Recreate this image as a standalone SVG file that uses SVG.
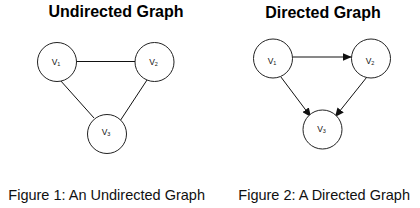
<svg xmlns="http://www.w3.org/2000/svg" width="420" height="208" viewBox="0 0 420 208">
<style>
.title{font-family:"Liberation Sans",Arial,sans-serif;font-size:16px;font-weight:bold;fill:#000;text-anchor:middle}
.cap{font-family:"Liberation Sans",Arial,sans-serif;font-size:14.5px;fill:#111}
.lbl{font-family:"Liberation Sans",Arial,sans-serif;font-size:8.5px;fill:#111;text-anchor:middle}
.sub{font-size:5.5px}
.node circle{fill:#fff;stroke:#222;stroke-width:1}
.edge{stroke:#111;stroke-width:1;fill:none}
</style>
<defs>
<marker id="arr" markerUnits="userSpaceOnUse" markerWidth="10" markerHeight="8" refX="9" refY="4" orient="auto">
<path d="M0,0 L9,4 L0,8 Z" fill="#111"/>
</marker>
</defs>
<rect width="420" height="208" fill="#fff"/>
<text class="title" x="116" y="17">Undirected Graph</text>
<text class="title" x="323" y="18">Directed Graph</text>
<g id="connectors">
<line class="edge" x1="77" y1="61.5" x2="135" y2="61.5"/>
<line class="edge" x1="60" y1="80" x2="94" y2="118"/>
<line class="edge" x1="147" y1="80" x2="120" y2="121"/>
<line class="edge" x1="292.7" y1="57" x2="351.7" y2="57" marker-end="url(#arr)"/>
<line class="edge" x1="280.7" y1="76.7" x2="311" y2="117" marker-end="url(#arr)"/>
<line class="edge" x1="366.7" y1="77.3" x2="335" y2="117" marker-end="url(#arr)"/>
</g>
<g id="u-v1" class="node"><circle cx="57" cy="62" r="19.5"/><text class="lbl" x="56" y="64.5">V<tspan class="sub" dy="1">1</tspan></text></g>
<g id="u-v2" class="node"><circle cx="154.5" cy="62" r="19.5"/><text class="lbl" x="153.5" y="64.5">V<tspan class="sub" dy="1">2</tspan></text></g>
<g id="u-v3" class="node"><circle cx="107" cy="134" r="19.5"/><text class="lbl" x="106" y="134.5">V<tspan class="sub" dy="1">3</tspan></text></g>
<g id="d-v1" class="node"><circle cx="273" cy="58.5" r="19.5"/><text class="lbl" x="272" y="63.5">V<tspan class="sub" dy="1">1</tspan></text></g>
<g id="d-v2" class="node"><circle cx="371" cy="58.5" r="19.5"/><text class="lbl" x="370" y="63.5">V<tspan class="sub" dy="1">2</tspan></text></g>
<g id="d-v3" class="node"><circle cx="322.5" cy="129.5" r="19.5"/><text class="lbl" x="321.5" y="132">V<tspan class="sub" dy="1">3</tspan></text></g>
<text class="cap" x="8.3" y="199.5">Figure 1: An Undirected Graph</text>
<text class="cap" x="238.3" y="199.5">Figure 2: A Directed Graph</text>
</svg>
